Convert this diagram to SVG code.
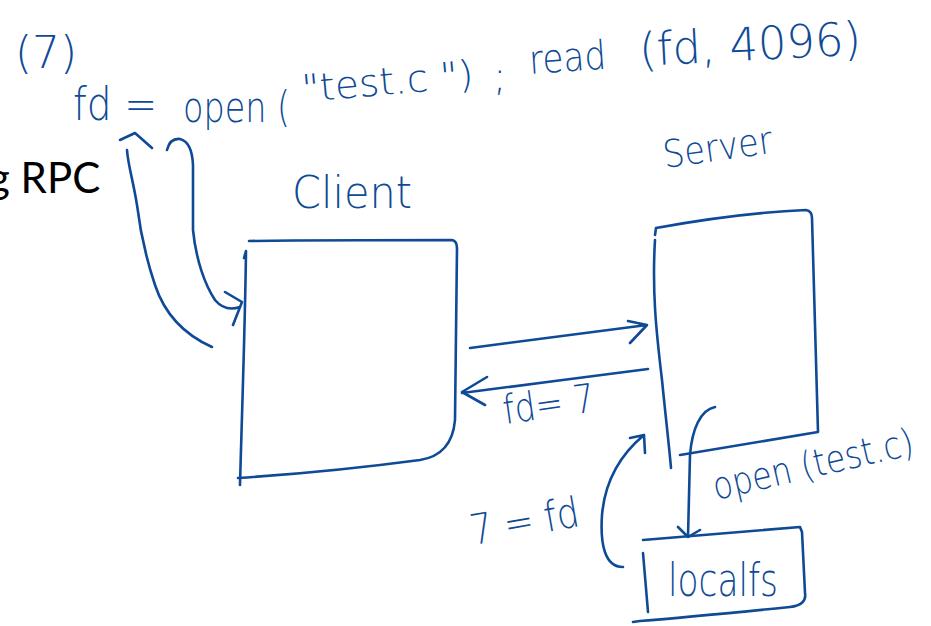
<svg xmlns="http://www.w3.org/2000/svg" width="931" height="626" viewBox="0 0 931 626">
  <style>
    .ink { fill: none; stroke: #0e4a96; stroke-width: 2.6; stroke-linecap: round; stroke-linejoin: round; }
    .hand { fill: #0e4a96; font-family: "DejaVu Sans", "Noto Sans", sans-serif; font-weight: 300; }
    .slide { fill: #000; font-family: "Lato", "Open Sans", sans-serif; }
  </style>
  <rect width="931" height="626" fill="#fff"/>

  <!-- slide heading fragment -->
  <text class="slide" x="-12" y="193" font-size="42">g RPC</text>

  <!-- call written above the client -->
  <g id="call">
    <text class="hand" x="15" y="68" font-size="44" textLength="62" lengthAdjust="spacingAndGlyphs">(7)</text>
    <text class="hand" x="73" y="120" font-size="46" textLength="84" lengthAdjust="spacingAndGlyphs">fd =</text>
    <text class="hand" x="183" y="122" font-size="42" textLength="107" lengthAdjust="spacingAndGlyphs">open (</text>
    <text class="hand" x="303" y="102" font-size="38" textLength="172" lengthAdjust="spacingAndGlyphs" transform="rotate(-5 303 102)">"test.c ")</text>
    <text class="hand" x="493" y="90" font-size="40">;</text>
    <text class="hand" x="530" y="74" font-size="40" textLength="77" lengthAdjust="spacingAndGlyphs" transform="rotate(-4 530 74)">read</text>
    <text class="hand" x="640" y="66" font-size="46" textLength="222" lengthAdjust="spacingAndGlyphs" transform="rotate(-3 640 66)">(fd, 4096)</text>
  </g>

  <g id="client">
    <text class="hand" x="292" y="208" font-size="44" textLength="120" lengthAdjust="spacingAndGlyphs">Client</text>
    <path class="ink" d="M249 241 C320 240 400 240 452 240 Q457 241 457 248 L455 420 Q452 455 420 460 C360 468 300 474 238 478"/>
    <path class="ink" d="M244 258 L246 251 C245 330 242 410 240 485"/>
  </g>

  <g id="server">
    <text class="hand" x="665" y="168" font-size="38" textLength="110" lengthAdjust="spacingAndGlyphs" transform="rotate(-8 665 168)">Server</text>
    <path class="ink" d="M655 235 L656 228 C700 220 760 212 806 210 Q812 211 812 218 L818 432 L680 455"/>
    <path class="ink" d="M655 240 C652 290 656 330 662 380 C666 420 669 445 671 468"/>
  </g>

  <g id="localfs">
    <text class="hand" x="668" y="596" font-size="46" textLength="110" lengthAdjust="spacingAndGlyphs">localfs</text>
    <path class="ink" d="M643 540 L800 527 L802 532 L805 593 Q807 605 790 607 C740 612 690 617 640 621 L633 622"/>
    <path class="ink" d="M643 553 L648 612"/>
  </g>

  <g id="connectors">
    <!-- request: client to server -->
    <path class="ink" d="M470 348 C530 340 590 332 647 325 M628 321 L647 325 L630 343"/>
    <!-- reply: server to client -->
    <path class="ink" d="M648 369 C590 377 520 385 462 393 M487 377 L462 392 L485 405"/>
    <text class="hand" x="505" y="424" font-size="40" textLength="92" lengthAdjust="spacingAndGlyphs" transform="rotate(-8 505 424)">fd= 7</text>

    <!-- server calls open on the local file system -->
    <path class="ink" d="M715 407 C700 410 692 430 690 455 L688 537 M678 527 L688 537 L700 530"/>
    <text class="hand" x="716" y="500" font-size="38" textLength="205" lengthAdjust="spacingAndGlyphs" transform="rotate(-13 716 500)">open (test.c)</text>

    <!-- local fs returns the descriptor -->
    <path class="ink" d="M623 567 C605 567 600 545 602 515 C605 480 620 455 644 435 M630 438 L644 435 L645 453"/>
    <text class="hand" x="473" y="545" font-size="42" textLength="110" lengthAdjust="spacingAndGlyphs" transform="rotate(-10 473 545)">7 = fd</text>

    <!-- descriptor handed back to the caller -->
    <path class="ink" d="M212 347 C185 335 165 315 155 285 C145 255 140 230 137 205 C133 180 128 165 127 150 M120 140 L135 133 L152 148"/>
    <!-- call passed down into the client stub -->
    <path class="ink" d="M167 150 Q170 138 180 139 Q192 142 193 165 L193 230 C196 260 205 285 215 300 Q225 312 240 307 M225 292 L242 302 L233 325"/>
  </g>
</svg>
